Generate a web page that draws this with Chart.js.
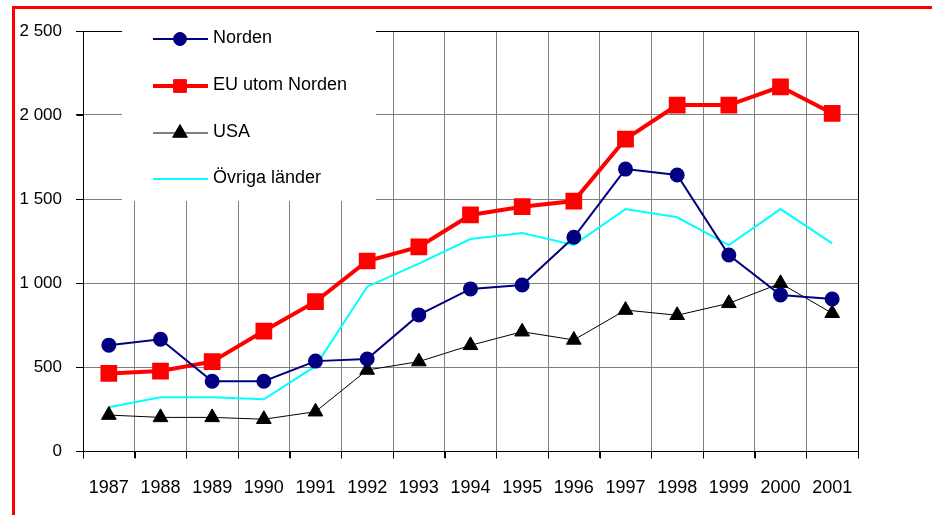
<!DOCTYPE html>
<html>
<head>
  <title>Norden, EU, USA</title>
  <script src="https://cdn.jsdelivr.net/npm/chart.js"></script>
  <style>
    body { margin: 0; background: #fff; }
    #wrap { width: 932px; height: 515px; }
  </style>
</head>
<body>
<div id="wrap"><canvas id="chart" width="932" height="515"></canvas></div>

<script>
  const years = ["1987", "1988", "1989", "1990", "1991", "1992", "1993", "1994",
                 "1995", "1996", "1997", "1998", "1999", "2000", "2001"];
  const norden = [630, 665, 415, 415, 535, 548, 810, 965, 988, 1272, 1678, 1643, 1167, 929, 905];
  const euUtomNorden = [462, 476, 532, 714, 889, 1131, 1215, 1405, 1454, 1488, 1857, 2059, 2059, 2168, 2010];
  const usa = [214, 200, 200, 189, 234, 482, 532, 629, 710, 661, 839, 808, 879, 998, 820];
  const ovrigaLander = [260, 320, 320, 308, 505, 978, 1115, 1262, 1298, 1226, 1440, 1391, 1226, 1440, 1236];
  const yTicks = [0, 500, 1000, 1500, 2000, 2500];

  const font = "'Liberation Sans', Arial, sans-serif";

  function spaced(v) {
    return String(v).replace(/\B(?=(\d{3})+(?!\d))/g, " ");
  }

  // red frame round the figure + dark border and tick marks round the plot
  const framePlugin = {
    id: "frame",
    beforeDraw(chart) {
      const ctx = chart.ctx;
      ctx.save();
      ctx.strokeStyle = "#ff0000";
      ctx.lineWidth = 3;
      ctx.beginPath();
      ctx.moveTo(12, 7.5);
      ctx.lineTo(932, 7.5);
      ctx.moveTo(13.5, 6);
      ctx.lineTo(13.5, 515);
      ctx.stroke();
      ctx.restore();
    },
    afterDatasetsDraw(chart) {
      const a = chart.chartArea;
      const xs = chart.scales.x, ys = chart.scales.y;
      const ctx = chart.ctx;
      ctx.save();
      ctx.strokeStyle = "#000";
      ctx.lineWidth = 1;
      ctx.beginPath();
      const top = Math.round(a.top) + 0.5, right = Math.round(a.right) + 0.5;
      const left = Math.round(a.left) + 0.5, bottom = Math.round(a.bottom) + 0.5;
      ctx.moveTo(a.left - 7, top);
      ctx.lineTo(right, top);
      ctx.lineTo(right, bottom);
      yTicks.forEach(v => {
        const y = Math.round(ys.getPixelForValue(v)) + 0.5;
        ctx.moveTo(left - 7, y);
        ctx.lineTo(left, y);
      });
      for (let i = 0; i <= years.length; i++) {
        const x = Math.round(xs.getPixelForValue(i - 0.5)) + 0.5;
        ctx.moveTo(x, bottom);
        ctx.lineTo(x, bottom + 7);
      }
      ctx.stroke();
      ctx.restore();
    }
  };

  // legend sits inside the plot, on a white box
  const legendPlugin = {
    id: "insideLegend",
    afterDraw(chart) {
      const ctx = chart.ctx;
      const rows = [39, 86, 133, 179];
      ctx.save();
      ctx.fillStyle = "#fff";
      ctx.fillRect(122, 20, 254, 181);
      chart.data.datasets.forEach((ds, i) => {
        const y = rows[i];
        ctx.strokeStyle = ds.borderColor;
        ctx.lineWidth = ds.borderWidth;
        ctx.beginPath();
        ctx.moveTo(153, y);
        ctx.lineTo(208, y);
        ctx.stroke();
        if (ds.pointRadius > 0) {
          ctx.fillStyle = ds.pointBackgroundColor;
          ctx.strokeStyle = ds.pointBorderColor;
          ctx.lineWidth = 1;
          Chart.helpers.drawPoint(ctx, {
            pointStyle: ds.pointStyle, rotation: 0,
            radius: ds.pointRadius, borderWidth: 1
          }, 180, y);
        }
        ctx.fillStyle = "#000";
        ctx.font = "18px " + font;
        ctx.textBaseline = "middle";
        ctx.textAlign = "left";
        ctx.fillText(ds.label, 213, y - 1);
      });
      ctx.restore();
    }
  };

  const ctx = document.getElementById("chart").getContext("2d");
  const chart = new Chart(ctx, {
    type: "line",
    data: {
      labels: years,
      datasets: [
        {
          label: "Norden",
          data: norden,
          borderColor: "#000080",
          borderWidth: 2,
          pointStyle: "circle",
          pointRadius: 6.5,
          pointBackgroundColor: "#000080",
          pointBorderColor: "#000080",
          tension: 0
        },
        {
          label: "EU utom Norden",
          data: euUtomNorden,
          borderColor: "#ff0000",
          borderWidth: 4,
          pointStyle: "rect",
          pointRadius: 9,
          pointBackgroundColor: "#ff0000",
          pointBorderColor: "#ff0000",
          tension: 0
        },
        {
          label: "USA",
          data: usa,
          borderColor: "#000000",
          borderWidth: 1,
          pointStyle: "triangle",
          pointRadius: 8.5,
          pointBackgroundColor: "#000000",
          pointBorderColor: "#000000",
          tension: 0
        },
        {
          label: "Övriga länder",
          data: ovrigaLander,
          borderColor: "#00ffff",
          borderWidth: 2,
          pointRadius: 0,
          tension: 0
        }
      ]
    },
    options: {
      responsive: false,
      animation: false,
      layout: { padding: { top: 31, right: 74, left: 0, bottom: 0 } },
      plugins: {
        legend: { display: false },
        tooltip: { enabled: false }
      },
      scales: {
        x: {
          offset: true,
          grid: {
            offset: true,
            color: "#808080",
            tickColor: "#000",
            tickLength: 7
          },
          border: { color: "#000", width: 1 },
          ticks: {
            color: "#000",
            font: { family: font, size: 18 },
            padding: 19,
            maxRotation: 0,
            autoSkip: false
          },
          afterFit(s) { s.height = 64; }
        },
        y: {
          min: 0,
          max: 2500,
          afterBuildTicks(s) { s.ticks = yTicks.map(v => ({ value: v })); },
          grid: {
            color: "#808080",
            tickColor: "#000",
            tickLength: 7
          },
          border: { color: "#000", width: 1 },
          ticks: {
            color: "#000",
            font: { family: font, size: 17 },
            padding: 14,
            callback: v => spaced(v)
          },
          afterFit(s) { s.width = 83; }
        }
      }
    },
    plugins: [framePlugin, legendPlugin]
  });
</script>
</body>
</html>
